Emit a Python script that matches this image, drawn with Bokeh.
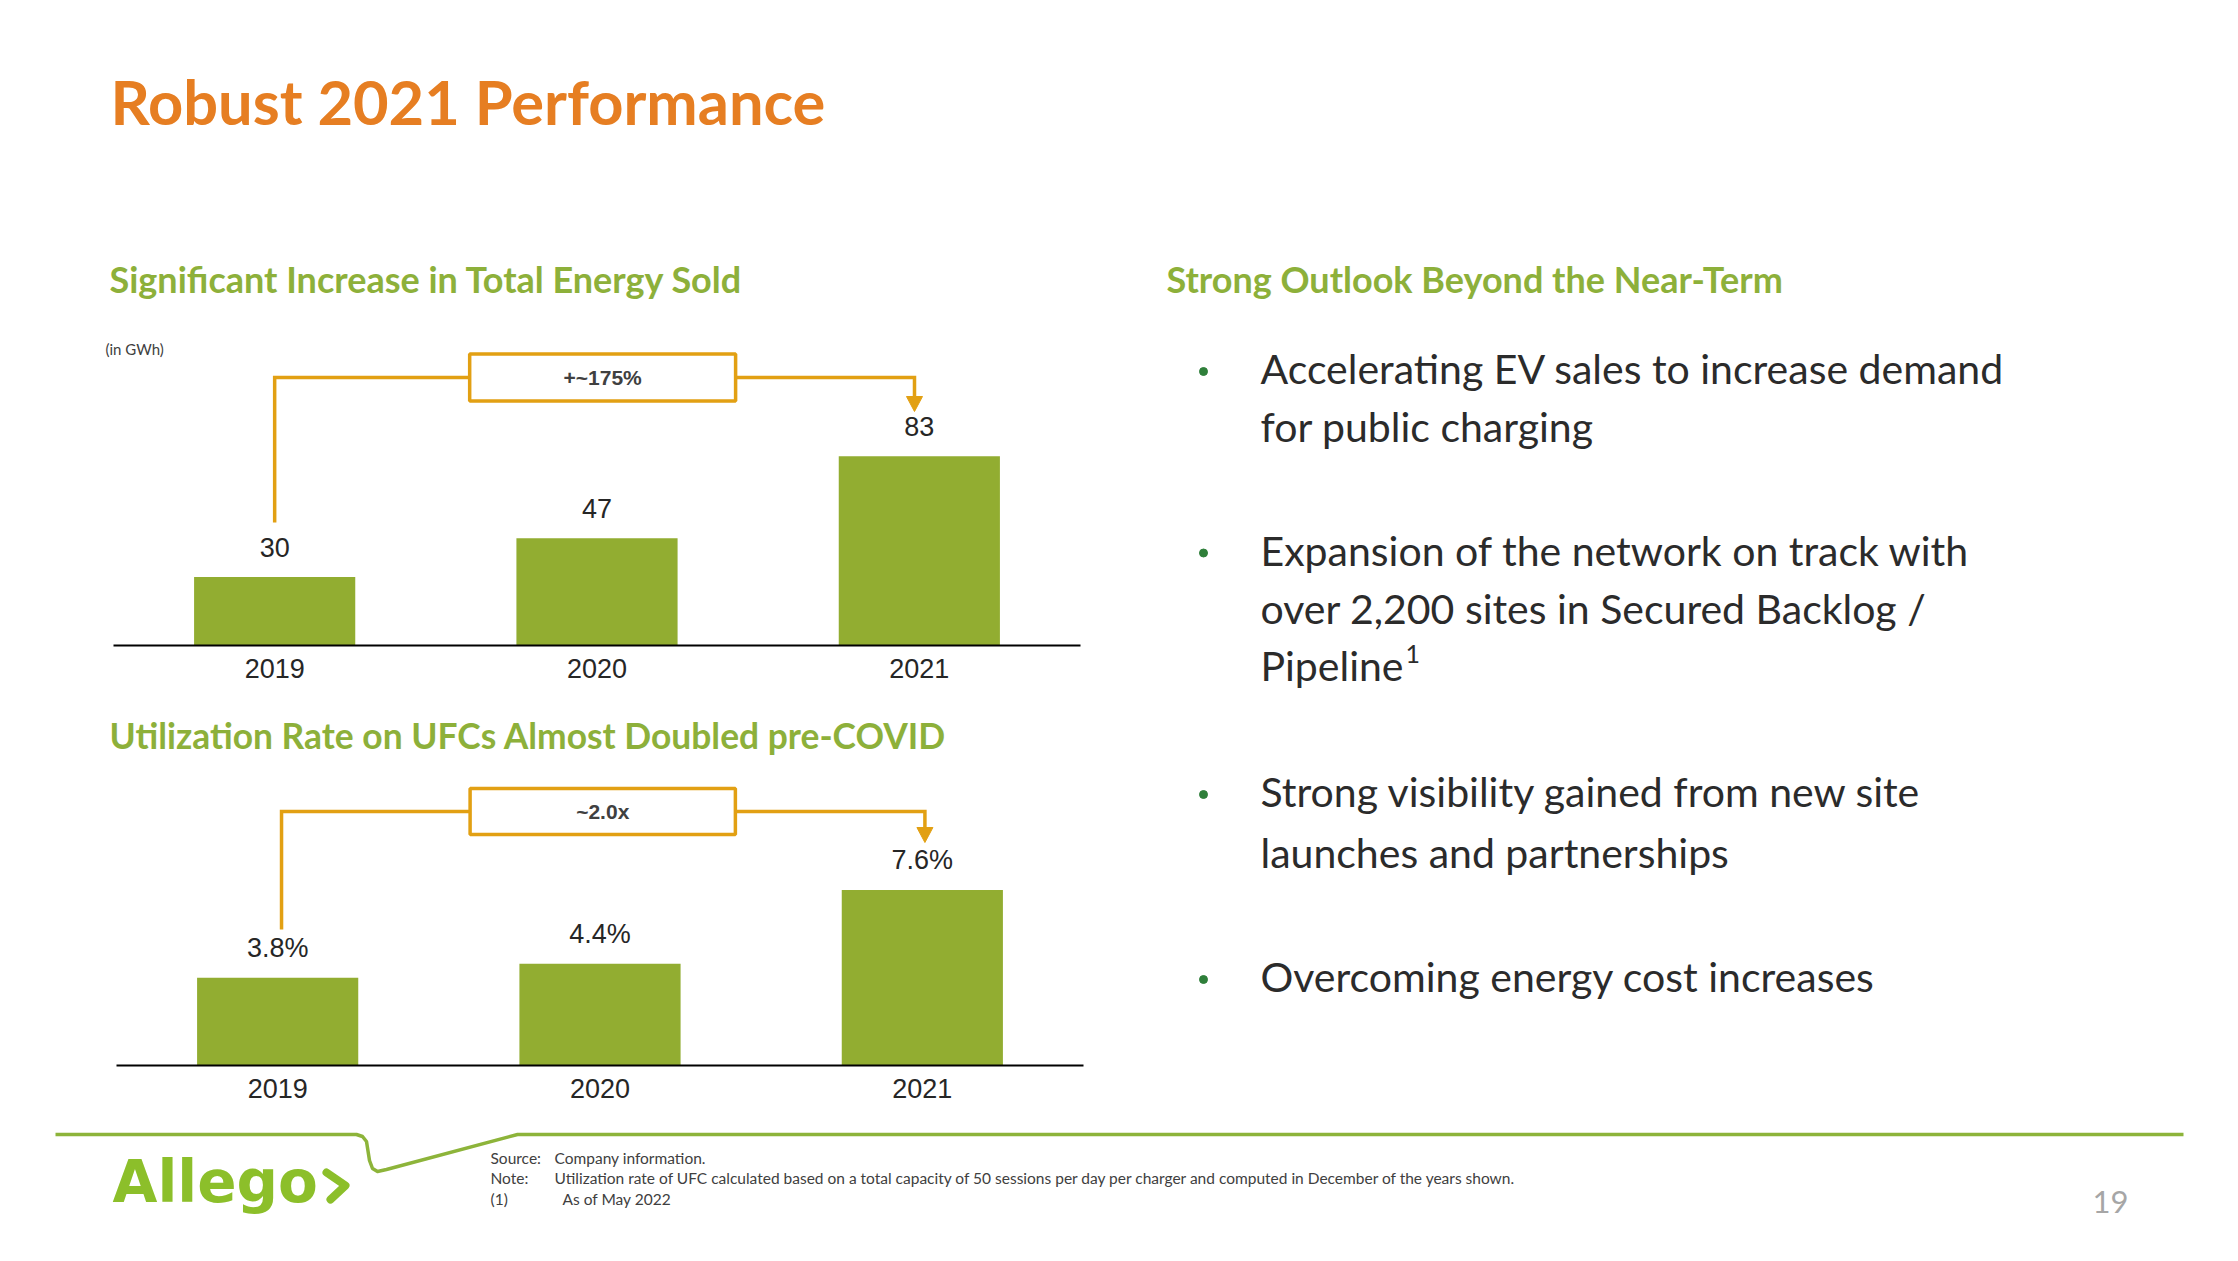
from bokeh.plotting import figure
from bokeh.models import Range1d
from bokeh.core.properties import value
from bokeh.embed import file_html
from bokeh.resources import INLINE

# ---------------- data ----------------
years = ["2019", "2020", "2021"]
energy_sold_gwh = [30, 47, 83]
energy_value_labels = ["30", "47", "83"]
energy_growth_label = "+~175%"
energy_unit_note = "(in GWh)"

ufc_utilization_pct = [3.8, 4.4, 7.6]
ufc_value_labels = ["3.8%", "4.4%", "7.6%"]
ufc_growth_label = "~2.0x"

slide_title = "Robust 2021 Performance"
left_heading_1 = "Significant Increase in Total Energy Sold"
left_heading_2 = "Utilization Rate on UFCs Almost Doubled pre-COVID"
right_heading = "Strong Outlook Beyond the Near-Term"
bullets = [
    ["Accelerating EV sales to increase demand", "for public charging"],
    ["Expansion of the network on track with", "over 2,200 sites in Secured Backlog /", "Pipeline"],
    ["Strong visibility gained from new site", "launches and partnerships"],
    ["Overcoming energy cost increases"],
]
footnote_keys = ["Source:", "Note:", "(1)"]
footnote_texts = [
    "Company information.",
    "Utilization rate of UFC calculated based on a total capacity of 50 sessions per day per charger and computed in December of the years shown.",
    "As of May 2022",
]
page_number = "19"
logo_text = "Allego"

# ---------------- styles ----------------
ORANGE = "#E67E22"
HEAD_GREEN = "#8DB03A"
BAR_GREEN = "#92AD31"
GOLD = "#E2A013"
LOGO_GREEN = "#8CBF2A"
LINE_GREEN = "#8DB43A"
DOT_GREEN = "#2F7F3A"
DARK = "#262626"
BODY = "#2B2B2B"

W, H, OFF = 2222, 1245, 0

p = figure(width=W, height=H, output_backend="svg", toolbar_location=None, tools="",
           x_range=Range1d(OFF, OFF + W), y_range=Range1d(OFF + H, OFF),
           x_axis_location=None, y_axis_location=None, min_border=0)
p.grid.visible = False
p.outline_line_color = None
p.background_fill_color = "white"
p.border_fill_color = "white"

# empirical lift (in em) so that the alphabetic baseline lands where intended
LIFT = {"Lato": 0.41, "Liberation Sans": 0.37, "DejaVu Sans": 0.40}


def txt(x, y, text, size, color, font="Lato", style="normal", align="left",
        baseline="alphabetic", ppu=None, **kw):
    if baseline == "alphabetic":
        d = LIFT.get(font, 0.4) * size
        if ppu is None:
            y = [v - d for v in y]          # page frame: y grows downward
        else:
            y = [v + d / ppu for v in y]    # chart frame: value grows upward
    p.text(x=x, y=y, text=text, text_font=value(font), text_font_size=value(f"{size}px"),
           text_font_style=style, text_color=color, text_align=align,
           text_baseline=baseline, **kw)


# ---------------- headings ----------------
txt([110], [126], [slide_title], 61.4, ORANGE, style="bold")
txt([109], [293], [left_heading_1], 36, HEAD_GREEN, style="bold")
txt([109], [750], [left_heading_2], 35.4, HEAD_GREEN, style="bold")
txt([1166], [293], [right_heading], 36, HEAD_GREEN, style="bold")
txt([105], [355], [energy_unit_note], 15, "#404040")


# ---------------- bar charts ----------------
def bar_chart(name, cats, vals, labels, growth, left, right, base, ppu,
              leg_x, leg_bottom_px, bracket_px, box_l, box_r, box_half_px,
              arrow_x, tip_px):
    n = len(cats)
    step = (right - left) / n
    c0 = left + step / 2
    xr, yr = name + "_x", name + "_y"
    p.extra_x_ranges[xr] = Range1d((OFF - c0) / step, (OFF + W - c0) / step)
    p.extra_y_ranges[yr] = Range1d((base - (OFF + H)) / ppu, (base - OFF) / ppu)
    rn = dict(x_range_name=xr, y_range_name=yr)
    idx = list(range(n))
    p.vbar(x=idx, top=vals, bottom=0, width=0.5, fill_color=BAR_GREEN, line_color=None, **rn)
    p.line(x=[-0.5, n - 0.5], y=[0, 0], line_color="black", line_width=2.2, **rn)
    txt(idx, [v + 20 / ppu for v in vals], labels, 27, DARK, font="Liberation Sans",
        align="center", ppu=ppu, **rn)
    txt(idx, [-33 / ppu] * n, cats, 27, DARK, font="Liberation Sans", align="center",
        ppu=ppu, **rn)
    # growth bracket
    by = bracket_px / ppu
    p.line(x=[leg_x, leg_x, box_l], y=[leg_bottom_px / ppu, by, by], line_color=GOLD,
           line_width=3.5, line_join="miter", **rn)
    head_h, head_w = 15, 8 / step
    p.line(x=[box_r, arrow_x, arrow_x], y=[by, by, (tip_px + head_h - 1) / ppu],
           line_color=GOLD, line_width=3.5, line_join="miter", **rn)
    p.patch(x=[arrow_x - head_w, arrow_x + head_w, arrow_x],
            y=[(tip_px + head_h) / ppu, (tip_px + head_h) / ppu, tip_px / ppu],
            fill_color=GOLD, line_color=GOLD, line_width=1, **rn)
    p.quad(left=[box_l], right=[box_r], bottom=[by - box_half_px / ppu],
           top=[by + box_half_px / ppu], fill_color="white", line_color=GOLD,
           line_width=3.5, **rn)
    txt([(box_l + box_r) / 2], [by], [growth], 21, "#404040", font="Liberation Sans",
        style="bold", align="center", baseline="middle", **rn)


bar_chart("energy", years, energy_sold_gwh, energy_value_labels, energy_growth_label,
          left=113, right=1080, base=645, ppu=2.28,
          leg_x=0.0, leg_bottom_px=123, bracket_px=268, box_l=0.605, box_r=1.43,
          box_half_px=23.5, arrow_x=1.985, tip_px=234)

bar_chart("ufc", years, ufc_utilization_pct, ufc_value_labels, ufc_growth_label,
          left=116, right=1083, base=1065, ppu=23.1,
          leg_x=0.012, leg_bottom_px=136, bracket_px=254, box_l=0.597, box_r=1.42,
          box_half_px=23, arrow_x=2.008, tip_px=223)

# ---------------- bullets ----------------
bullet_baselines = [[385, 442.5], [566.5, 625, 682], [808, 869], [993]]
bx, by_ = [], []
lx, ly, lt = [], [], []
for lines, ys in zip(bullets, bullet_baselines):
    bx.append(1203)
    by_.append(ys[0] - 14)
    for line, yy in zip(lines, ys):
        lx.append(1260)
        ly.append(yy)
        lt.append(line)
p.scatter(x=bx, y=by_, size=8, marker="circle", fill_color=DOT_GREEN, line_color=DOT_GREEN)
txt(lx, ly, lt, 41, BODY)
txt([1405], [664], ["1"], 25, BODY)

# ---------------- footer ----------------
p.line(x=[55, 356, 362, 366, 369, 372, 377, 386, 517, 2183],
       y=[1134, 1134, 1136, 1141, 1160, 1168, 1171, 1169, 1134, 1134],
       line_color=LINE_GREEN, line_width=3.5, line_join="round")
txt([112], [1205], [logo_text], 58, LOGO_GREEN, font="DejaVu Sans", style="bold")
p.line(x=[326, 345, 330], y=[1172, 1185, 1199], line_color=LOGO_GREEN, line_width=8,
       line_cap="round", line_join="round")
txt([490, 490, 490], [1164, 1184, 1205], footnote_keys, 15.5, "#404040")
txt([554, 554, 562], [1164, 1184, 1205], footnote_texts, 15.5, "#404040")
txt([2110], [1214], [page_number], 31, "#A6A6A6", align="center")

open("out.html", "w").write(file_html(p, INLINE))
